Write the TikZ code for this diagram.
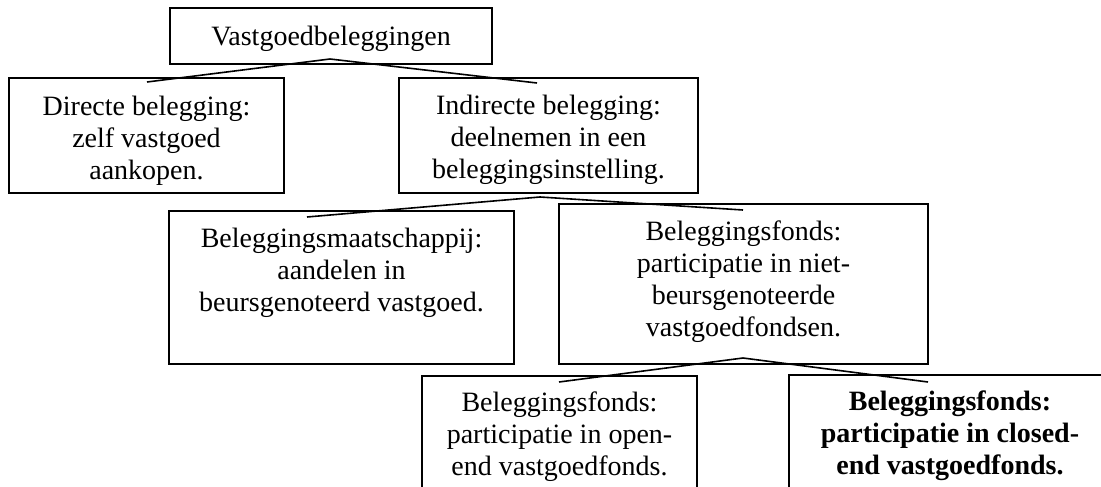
\documentclass[tikz,border=0pt]{standalone}
\usepackage{fontspec}
\setmainfont{Liberation Serif}
\begin{document}
\begin{tikzpicture}[x=1pt,y=-1pt,
  box/.style={draw, line width=2.3pt, outer sep=0pt, inner sep=0pt, anchor=north west},
  txt/.style={anchor=north, align=center, inner sep=0pt, font=\fontsize{28}{32}\selectfont},
  link/.style={line width=1.6pt, line join=miter}]
\useasboundingbox (0,0) rectangle (1101,487);
\clip (0,0) rectangle (1101,487);
\fill[white] (0,0) rectangle (1101,487);

% boxes
\node[box, minimum width=322pt, minimum height=56pt]  (top) at (170,8)   {};
\node[box, minimum width=275pt, minimum height=115pt] (dir) at (9,78)    {};
\node[box, minimum width=299pt, minimum height=115pt] (ind) at (399,78)  {};
\node[box, minimum width=345pt, minimum height=153pt] (bm)  at (169,211) {};
\node[box, minimum width=369pt, minimum height=160pt] (bf)  at (559,204) {};
\node[box, minimum width=275pt, minimum height=140pt] (oe)  at (422,376) {};
\node[box, minimum width=322pt, minimum height=140pt] (ce)  at (789,375) {};

% texts
\node[txt] (topt) at (331,22.6)   {\strut Vastgoedbeleggingen};
\node[txt] (dirt) at (146.5,92.6) {\strut Directe belegging:\\zelf vastgoed\\aankopen.};
\node[txt] (indt) at (548.5,91.6) {\strut Indirecte belegging:\\deelnemen in een\\beleggingsinstelling.};
\node[txt] (bmt)  at (341.5,224.6) {\strut Beleggingsmaatschappij:\\aandelen in\\beursgenoteerd vastgoed.};
\node[txt] (bft)  at (743.5,217.6) {\strut Beleggingsfonds:\\participatie in niet-\\beursgenoteerde\\vastgoedfondsen.};
\node[txt] (oet)  at (559.5,388.6) {\strut Beleggingsfonds:\\participatie in open-\\end vastgoedfonds.};
\node[txt, font=\fontsize{28}{32}\selectfont\bfseries] (cet) at (950,387.6) {\strut Beleggingsfonds:\\participatie in closed-\\end vastgoedfonds.};

% connector points
\coordinate (a1) at (330,59);
\coordinate (l1) at (147,82);
\coordinate (r1) at (537,83);
\coordinate (a2) at (540,197);
\coordinate (l2) at (307,217);
\coordinate (r2) at (743,210);
\coordinate (a3) at (743,358);
\coordinate (l3) at (559,382);
\coordinate (r3) at (928,382);

\draw[link] (l1) -- (a1) -- (r1);
\draw[link] (l2) -- (a2) -- (r2);
\draw[link] (l3) -- (a3) -- (r3);
\end{tikzpicture}
\end{document}
